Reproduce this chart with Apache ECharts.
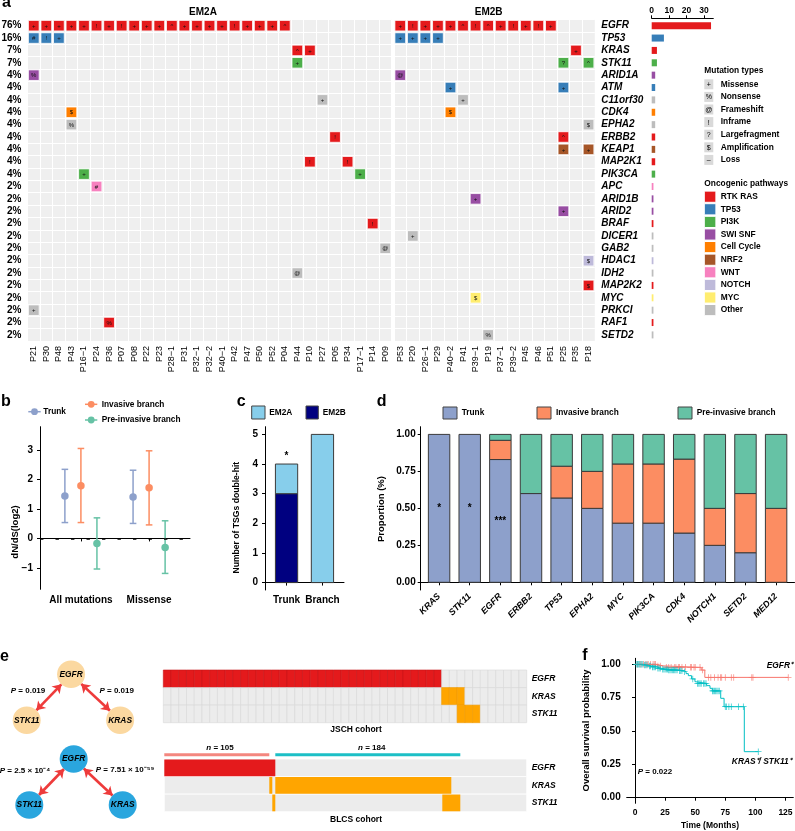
<!DOCTYPE html>
<html><head><meta charset="utf-8">
<script src="https://cdn.jsdelivr.net/npm/echarts@6/dist/echarts.min.js"></script>
<style>html,body{margin:0;padding:0;background:#fff}#c{width:795px;height:831px}</style>
</head><body><div id="c"></div>
<script>
const FF = "'Liberation Sans', Arial, Helvetica, sans-serif";

// ================= Panel a : oncoprint =================
const samplesEM2A = ['P21','P30','P48','P43','P16−1','P24','P36','P07','P08','P22','P23','P28−1','P31','P32−1','P32−2','P40−1','P42','P47','P50','P52','P04','P44','P10','P27','P05','P34','P17−1','P14','P09'];
const samplesEM2B = ['P53','P20','P26−1','P29','P40−2','P41','P39−1','P19','P37−1','P39−2','P45','P46','P51','P25','P35','P18'];
const genes = ['EGFR','TP53','KRAS','STK11','ARID1A','ATM','C11orf30','CDK4','EPHA2','ERBB2','KEAP1','MAP2K1','PIK3CA','APC','ARID1B','ARID2','BRAF','DICER1','GAB2','HDAC1','IDH2','MAP2K2','MYC','PRKCI','RAF1','SETD2'];
const genePathway = ['RTK RAS','TP53','RTK RAS','PI3K','SWI SNF','TP53','Other','Cell Cycle','Other','RTK RAS','NRF2','RTK RAS','PI3K','WNT','SWI SNF','SWI SNF','RTK RAS','Other','Other','NOTCH','Other','RTK RAS','MYC','Other','RTK RAS','Other'];
const mutationsEM2A = [
  ['P21','EGFR','+'],['P30','EGFR','+'],['P48','EGFR','+'],['P43','EGFR','+'],['P16−1','EGFR','+'],['P24','EGFR','!'],['P36','EGFR','+'],['P07','EGFR','!'],['P08','EGFR','+'],['P22','EGFR','+'],['P23','EGFR','+'],['P28−1','EGFR','^'],['P31','EGFR','+'],['P32−1','EGFR','+'],['P32−2','EGFR','+'],['P40−1','EGFR','+'],['P42','EGFR','!'],['P47','EGFR','+'],['P50','EGFR','+'],['P52','EGFR','+'],['P04','EGFR','^'],
  ['P21','TP53','#'],['P30','TP53','!'],['P48','TP53','+'],
  ['P44','KRAS','^'],['P10','KRAS','+'],
  ['P44','STK11','+'],
  ['P21','ARID1A','%'],
  ['P27','C11orf30','+'],
  ['P43','CDK4','$'],
  ['P43','EPHA2','%'],
  ['P05','ERBB2','!'],
  ['P10','MAP2K1','!'],['P34','MAP2K1','!'],
  ['P16−1','PIK3CA','+'],['P17−1','PIK3CA','+'],
  ['P24','APC','#'],
  ['P14','BRAF','!'],
  ['P09','GAB2','@'],
  ['P44','IDH2','@'],
  ['P21','PRKCI','+'],
  ['P36','RAF1','%']
];
const mutationsEM2B = [
  ['P53','EGFR','+'],['P20','EGFR','!'],['P26−1','EGFR','+'],['P29','EGFR','+'],['P40−2','EGFR','+'],['P41','EGFR','^'],['P39−1','EGFR','!'],['P19','EGFR','^'],['P37−1','EGFR','+'],['P39−2','EGFR','!'],['P45','EGFR','+'],['P46','EGFR','!'],['P51','EGFR','+'],
  ['P53','TP53','+'],['P20','TP53','+'],['P26−1','TP53','+'],['P29','TP53','+'],
  ['P35','KRAS','+'],
  ['P25','STK11','?'],['P18','STK11','^'],
  ['P53','ARID1A','@'],
  ['P40−2','ATM','+'],['P25','ATM','+'],
  ['P41','C11orf30','+'],
  ['P40−2','CDK4','$'],
  ['P18','EPHA2','$'],
  ['P25','ERBB2','^'],
  ['P25','KEAP1','+'],['P18','KEAP1','+'],
  ['P39−1','ARID1B','+'],
  ['P25','ARID2','+'],
  ['P20','DICER1','+'],
  ['P18','HDAC1','$'],
  ['P18','MAP2K2','$'],
  ['P39−1','MYC','$'],
  ['P19','SETD2','%']
];
const mutationTypeSymbols = ['+','%','@','!','?','$','–'];
const mutationTypeLabels = ['Missense','Nonsense','Frameshift','Inframe','Largefragment','Amplification','Loss'];
const pathwayNames = ['RTK RAS','TP53','PI3K','SWI SNF','Cell Cycle','NRF2','WNT','NOTCH','MYC','Other'];
const pathwayColors = ['#E41A1C','#377EB8','#4DAF4A','#984EA3','#FF7F00','#A65628','#F781BF','#BEBADA','#FFED6F','#BDBDBD'];
const countTicks = [0,10,20,30];

// ================= Panel b : dN/dS =================
const dndsCategories = ['All mutations','Missense'];
const dndsTrunk = [1.44, 1.41], dndsTrunkLo = [0.54, 0.51], dndsTrunkHi = [2.35, 2.32];
const dndsInv = [1.79, 1.72], dndsInvLo = [0.54, 0.46], dndsInvHi = [3.06, 2.98];
const dndsPre = [-0.17, -0.31], dndsPreLo = [-1.04, -1.19], dndsPreHi = [0.70, 0.60];
const dndsTicks = [-1,0,1,2,3];

// ================= Panel c : TSG double-hit =================
const tsgCategories = ['Trunk','Branch'];
const tsgEM2B = [3, 0];
const tsgEM2A = [1, 5];
const tsgStars = ['*',''];
const tsgTicks = [0,1,2,3,4,5];

// ================= Panel d : proportions =================
const propGenes = ['KRAS','STK11','EGFR','ERBB2','TP53','EPHA2','MYC','PIK3CA','CDK4','NOTCH1','SETD2','MED12'];
const propTrunk = [1, 1, 0.83, 0.6, 0.57, 0.5, 0.4, 0.4, 0.333, 0.25, 0.2, 0];
const propInvasive = [0, 0, 0.13, 0, 0.215, 0.25, 0.4, 0.4, 0.5, 0.25, 0.4, 0.5];
const propPre = [0, 0, 0.04, 0.4, 0.215, 0.25, 0.2, 0.2, 0.167, 0.5, 0.4, 0.5];
const propStars = ['*','*','***','','','','','','','','',''];
const propStarY = [0.5, 0.5, 0.41];
const propTicks = [0, 0.25, 0.5, 0.75, 1];

// ================= Panel e : networks + oncoprints =================
const netGenes = ['EGFR','STK11','KRAS'];
const netPos = [[0.95,0],[0,1],[2,1]];
const netP1 = ['P = 0.019','P = 0.019'];
const netP2 = ['P = 2.5 × 10⁻⁴','P = 7.51 × 10⁻⁵⁹'];
const oncoGenes = ['EGFR','KRAS','STK11'];
const jschColumns = 47;
const jschAltered = [[0,36],[36,39],[38,41]];
const blcsTotal = 362.4;
const blcsSegments = [[0,0,111],[1,105,108],[1,111,287],[2,108,111],[2,278,296]];
const blcsGroups = [[0,105],[111,296]];
const blcsGroupLabels = ['105','184'];

// ================= Panel f : Kaplan-Meier =================
const kmEgfrTime = [0, 18, 23.5, 55, 58, 127.3];
const kmEgfrSurv = [1, 0.988, 0.977, 0.957, 0.902, 0.902];
const kmEgfrCensor = [2,4,5,7,9,10,11,13,15,16,17,19,21,26,28,30,33,34,36,37,39,42,46,47,49,50,54,56,61,63,66,69,71,72,75,80,82,97,98,127.3];
const kmKrasTime = [0,7,11,13.8,18,22,27.7,36,40,42.4,44.3,47,49.8,51.2,59.5,62.3,64.2,71.2,74,90.8,102.4];
const kmKrasSurv = [1,0.994,0.987,0.98,0.97,0.962,0.957,0.952,0.945,0.93,0.915,0.89,0.87,0.857,0.84,0.82,0.80,0.745,0.682,0.345,0.345];
const kmKrasCensor = [1,2,3,4,5,6,8,9,10,12,13,14.5,15,16,17,19,20,21,23,24,25,26,27,28,29,30,31,32,33,34,35,37,38,39,41,48,52,53,54,55,57,58,59,64.5,65,66,67,68,69,70,75,76,78,80,86,90,102.4];
const kmTicksX = [0,25,50,75,100,125];
const kmTicksY = [0,0.25,0.5,0.75,1];

// ---------------- derived ----------------
const geneColor = g => pathwayColors[pathwayNames.indexOf(genePathway[genes.indexOf(g)])];
const totalSamples = samplesEM2A.length + samplesEM2B.length;
const geneCounts = genes.map(g => mutationsEM2A.concat(mutationsEM2B).filter(m => m[1] === g).length);
const genePct = geneCounts.map(c => Math.round(c / totalSamples * 100) + '%');
const minus = v => (v < 0 ? '−' + Math.abs(v) : String(v));

function mutSeries(muts, samples, idx) {
  return {
    type: 'custom', xAxisIndex: idx, yAxisIndex: idx, silent: true,
    data: muts.map(m => [samples.indexOf(m[0]), genes.indexOf(m[1])]),
    renderItem: (p, api) => {
      const m = muts[p.dataIndex];
      const c = api.coord([api.value(0), api.value(1)]);
      const s = api.size([1, 1]);
      const w = s[0] - 1.8, h = s[1] - 1.8;
      return { type: 'group', children: [
        { type: 'rect', shape: { x: c[0] - w / 2, y: c[1] - h / 2, width: w, height: h },
          style: { fill: geneColor(m[1]), stroke: '#fff', lineWidth: 0.8 } },
        { type: 'text', style: { text: m[2], x: c[0], y: c[1] + 0.5, align: 'center', verticalAlign: 'middle',
          fontSize: 6, fontFamily: FF, fill: '#111' } }
      ]};
    }
  };
}

function stackSeries(xi, xs, bases, vals, color, wUnits) {
  return {
    type: 'custom', xAxisIndex: xi, yAxisIndex: xi, silent: true,
    data: xs.map((x, i) => [x, bases[i], bases[i] + vals[i]]),
    renderItem: (p, api) => {
      const x = api.value(0), y0 = api.value(1), y1 = api.value(2);
      if (!(y1 - y0 > 0)) return { type: 'group', children: [] };
      const a = api.coord([x - wUnits / 2, y1]);
      const b = api.coord([x + wUnits / 2, y0]);
      return { type: 'rect', shape: { x: a[0], y: a[1], width: b[0] - a[0], height: b[1] - a[1] },
        style: { fill: color, stroke: '#3a3a3a', lineWidth: 1 } };
    }
  };
}

function starSeries(xi, xs, ys, labels, size) {
  return {
    type: 'custom', xAxisIndex: xi, yAxisIndex: xi, silent: true,
    data: xs.map((x, i) => [x, ys[i]]),
    renderItem: (p, api) => {
      const c = api.coord([api.value(0), api.value(1)]);
      return { type: 'text', style: { text: labels[p.dataIndex], x: c[0], y: c[1], align: 'center', verticalAlign: 'middle',
        fontSize: size, fontWeight: 'bold', fontFamily: FF, fill: '#000' } };
    }
  };
}

function errSeries(offset, vals, lo, hi, color) {
  return [{
    type: 'custom', xAxisIndex: 3, yAxisIndex: 3, silent: true,
    data: vals.map((v, i) => [i + 1 + offset, lo[i], hi[i]]),
    renderItem: (p, api) => {
      const a = api.coord([api.value(0), api.value(2)]);
      const b = api.coord([api.value(0), api.value(1)]);
      const st = { stroke: color, lineWidth: 1.5 };
      return { type: 'group', children: [
        { type: 'line', shape: { x1: a[0], y1: a[1], x2: b[0], y2: b[1] }, style: st },
        { type: 'line', shape: { x1: a[0] - 3.3, y1: a[1], x2: a[0] + 3.3, y2: a[1] }, style: st },
        { type: 'line', shape: { x1: b[0] - 3.3, y1: b[1], x2: b[0] + 3.3, y2: b[1] }, style: st }
      ]};
    }
  }, {
    type: 'scatter', xAxisIndex: 3, yAxisIndex: 3, silent: true, symbolSize: 7.5,
    itemStyle: { color: color, opacity: 1 },
    data: vals.map((v, i) => [i + 1 + offset, v])
  }];
}

function stepAt(times, surv, t) {
  let s = surv[0];
  for (let i = 0; i < times.length; i++) if (times[i] <= t) s = surv[i];
  return s;
}

const plusPath = 'path://M-0.6,-5H0.6V-0.6H5V0.6H0.6V5H-0.6V0.6H-5V-0.6H-0.6Z';

const axisBlack = { show: true, lineStyle: { color: '#000', width: 1 } };
const noAxis = { show: false };

const gridBase = { containLabel: false, outerBoundsMode: 'none' };

const option = {
  animation: false,
  backgroundColor: '#fff',
  textStyle: { fontFamily: FF, color: '#000' },
  grid: [
    Object.assign({ left: 27.5, top: 19.5, width: 364, height: 321.6, show: true, backgroundColor: '#EFEFEF', borderWidth: 0 }, gridBase),
    Object.assign({ left: 394, top: 19.5, width: 200.8, height: 321.6, show: true, backgroundColor: '#EFEFEF', borderWidth: 0 }, gridBase),
    Object.assign({ left: 651.7, top: 19.5, width: 61.6, height: 321.6 }, gridBase),
    Object.assign({ left: 40, top: 426.7, width: 150, height: 162.6 }, gridBase),
    Object.assign({ left: 265, top: 426.7, width: 79, height: 163.3 }, gridBase),
    Object.assign({ left: 420.7, top: 426.7, width: 373.8, height: 163.3 }, gridBase),
    Object.assign({ left: 163.3, top: 670, width: 363.4, height: 52.7 }, gridBase),
    Object.assign({ left: 164.3, top: 752.85, width: 362.4, height: 58.85 }, gridBase),
    Object.assign({ left: 626.7, top: 658.3, width: 166.6, height: 145 }, gridBase)
  ],
  xAxis: [
    { type: 'category', gridIndex: 0, data: samplesEM2A, axisLine: noAxis, axisTick: noAxis,
      axisLabel: { interval: 0, rotate: 90, fontSize: 9, color: '#000', margin: 5, fontFamily: FF },
      splitLine: { show: true, interval: 0, lineStyle: { color: '#fff', width: 1 } } },
    { type: 'category', gridIndex: 1, data: samplesEM2B, axisLine: noAxis, axisTick: noAxis,
      axisLabel: { interval: 0, rotate: 90, fontSize: 9, color: '#000', margin: 5, fontFamily: FF },
      splitLine: { show: true, interval: 0, lineStyle: { color: '#fff', width: 1 } } },
    { type: 'value', gridIndex: 2, position: 'top', min: 0, max: 35.3, offset: 1.2,
      axisLine: axisBlack, axisTick: { show: true, length: 3, customValues: countTicks, lineStyle: { color: '#000' } },
      axisLabel: { customValues: countTicks, fontSize: 8.5, fontWeight: 'bold', color: '#000', margin: 3 },
      splitLine: noAxis },
    { type: 'value', gridIndex: 3, min: 0.4, max: 2.6,
      axisLine: axisBlack, axisTick: { show: true, length: 3, customValues: [1, 2], lineStyle: { color: '#000' } },
      axisLabel: { customValues: [1, 2], formatter: v => dndsCategories[Math.round(v) - 1], fontSize: 10, fontWeight: 'bold', color: '#000', margin: 6 },
      splitLine: noAxis },
    { type: 'value', gridIndex: 4, min: 0.4, max: 2.6,
      axisLine: axisBlack, axisTick: { show: true, length: 3, customValues: [1, 2], lineStyle: { color: '#000' } },
      axisLabel: { customValues: [1, 2], formatter: v => tsgCategories[Math.round(v) - 1], fontSize: 10, fontWeight: 'bold', color: '#000', margin: 5 },
      splitLine: noAxis },
    { type: 'value', gridIndex: 5, min: 0.4, max: 12.6,
      axisLine: axisBlack, axisTick: { show: true, length: 3, customValues: propGenes.map((g, i) => i + 1), lineStyle: { color: '#000' } },
      axisLabel: { customValues: propGenes.map((g, i) => i + 1), formatter: v => propGenes[Math.round(v) - 1], rotate: 45,
        fontSize: 9, fontWeight: 'bold', fontStyle: 'italic', color: '#000', margin: 5 },
      splitLine: noAxis },
    { type: 'value', gridIndex: 6, min: 0, max: jschColumns, show: false },
    { type: 'value', gridIndex: 7, min: 0, max: blcsTotal, show: false },
    { type: 'value', gridIndex: 8, min: -6.9, max: 131.5,
      axisLine: axisBlack, axisTick: { show: true, length: 3, customValues: kmTicksX, lineStyle: { color: '#000' } },
      axisLabel: { customValues: kmTicksX, fontSize: 8.5, fontWeight: 'bold', color: '#000', margin: 5 },
      splitLine: noAxis }
  ],
  yAxis: [
    { type: 'category', gridIndex: 0, data: genes, inverse: true, axisLine: noAxis, axisTick: noAxis,
      axisLabel: { interval: 0, formatter: (v, i) => genePct[i], fontSize: 10, fontWeight: 'bold', color: '#000', margin: 6 },
      splitLine: { show: true, interval: 0, lineStyle: { color: '#fff', width: 1 } } },
    { type: 'category', gridIndex: 1, data: genes, inverse: true, position: 'right', axisLine: noAxis, axisTick: noAxis,
      axisLabel: { interval: 0, fontSize: 10, fontWeight: 'bold', fontStyle: 'italic', color: '#000', margin: 6.5 },
      splitLine: { show: true, interval: 0, lineStyle: { color: '#fff', width: 1 } } },
    { type: 'category', gridIndex: 2, data: genes, inverse: true, show: false },
    { type: 'value', gridIndex: 3, min: -1.73, max: 3.8,
      axisLine: axisBlack, axisTick: { show: true, length: 3, customValues: dndsTicks, lineStyle: { color: '#000' } },
      axisLabel: { customValues: dndsTicks, formatter: minus, fontSize: 10, fontWeight: 'bold', color: '#000', margin: 7 },
      splitLine: noAxis },
    { type: 'value', gridIndex: 4, min: -0.25, max: 5.26,
      axisLine: axisBlack, axisTick: { show: true, length: 3, customValues: tsgTicks, lineStyle: { color: '#000' } },
      axisLabel: { customValues: tsgTicks, fontSize: 10, fontWeight: 'bold', color: '#000', margin: 7 },
      splitLine: noAxis },
    { type: 'value', gridIndex: 5, min: -0.052, max: 1.052,
      axisLine: axisBlack, axisTick: { show: true, length: 3, customValues: propTicks, lineStyle: { color: '#000' } },
      axisLabel: { customValues: propTicks, formatter: v => v.toFixed(2), fontSize: 10, fontWeight: 'bold', color: '#000', margin: 5 },
      splitLine: noAxis },
    { type: 'value', gridIndex: 6, min: 0, max: 3, inverse: true, position: 'right',
      axisLine: noAxis, axisTick: noAxis, splitLine: noAxis,
      axisLabel: { customValues: [0.5, 1.5, 2.5], formatter: v => oncoGenes[Math.floor(v)], fontSize: 8.5, fontWeight: 'bold', fontStyle: 'italic', color: '#000', margin: 5 } },
    { type: 'value', gridIndex: 7, min: -0.35, max: 3, inverse: true, position: 'right',
      axisLine: noAxis, axisTick: noAxis, splitLine: noAxis,
      axisLabel: { customValues: [0.5, 1.5, 2.5], formatter: v => oncoGenes[Math.floor(v)], fontSize: 8.5, fontWeight: 'bold', fontStyle: 'italic', color: '#000', margin: 5 } },
    { type: 'value', gridIndex: 8, min: -0.042, max: 1.045,
      axisLine: axisBlack, axisTick: { show: true, length: 3, customValues: kmTicksY, lineStyle: { color: '#000' } },
      axisLabel: { customValues: kmTicksY, formatter: v => v.toFixed(2), fontSize: 10, fontWeight: 'bold', color: '#000', margin: 6 },
      splitLine: noAxis }
  ],
  series: [],
  graphic: { elements: [] }
};

const S = option.series;
// panel a
S.push(mutSeries(mutationsEM2A, samplesEM2A, 0));
S.push(mutSeries(mutationsEM2B, samplesEM2B, 1));
S.push({ type: 'bar', xAxisIndex: 2, yAxisIndex: 2, barWidth: 7, silent: true,
  data: geneCounts.map((c, i) => ({ value: c, itemStyle: { color: geneColor(genes[i]) } })) });

// panel b
const off = 0.235;
S.push(...errSeries(-off, dndsTrunk, dndsTrunkLo, dndsTrunkHi, '#8DA0CB'));
S.push(...errSeries(0, dndsInv, dndsInvLo, dndsInvHi, '#FC8D62'));
S.push(...errSeries(off, dndsPre, dndsPreLo, dndsPreHi, '#66C2A5'));
S[S.length - 1].markLine = { silent: true, symbol: 'none', label: { show: false },
  lineStyle: { color: '#000', width: 1.6, type: [3.4, 12.1] }, data: [{ yAxis: 0 }] };

// panel c
const tsgX = tsgCategories.map((c, i) => i + 1);
S.push(stackSeries(4, tsgX, tsgX.map(() => 0), tsgEM2B, '#000080', 0.62));
S.push(stackSeries(4, tsgX, tsgEM2B, tsgEM2A, '#87CEEB', 0.62));
S.push(starSeries(4, tsgX, tsgX.map((x, i) => tsgEM2B[i] + tsgEM2A[i] + 0.25), tsgStars, 10));

// panel d
const propX = propGenes.map((g, i) => i + 1);
S.push(stackSeries(5, propX, propX.map(() => 0), propTrunk, '#8DA0CB', 0.70));
S.push(stackSeries(5, propX, propTrunk, propInvasive, '#FC8D62', 0.70));
S.push(stackSeries(5, propX, propTrunk.map((t, i) => t + propInvasive[i]), propPre, '#66C2A5', 0.70));
S.push(starSeries(5, propX.slice(0, 3), propStarY, propStars.slice(0, 3), 10));

// panel e : JSCH oncoprint
const jschCells = [];
oncoGenes.forEach((g, r) => { for (let c = 0; c < jschColumns; c++) jschCells.push([c, r]); });
S.push({ type: 'custom', xAxisIndex: 6, yAxisIndex: 6, silent: true, data: jschCells,
  renderItem: (p, api) => {
    const col = api.value(0), row = api.value(1);
    const a = api.coord([col, row]), b = api.coord([col + 1, row + 1]);
    const alt = col >= jschAltered[row][0] && col < jschAltered[row][1];
    const fill = alt ? (row === 0 ? '#E41A1C' : '#FFA500') : '#ECECEC';
    const stroke = alt ? (row === 0 ? '#C81418' : '#F09A00') : '#D9D9D9';
    return { type: 'rect', shape: { x: a[0], y: Math.min(a[1], b[1]), width: b[0] - a[0], height: Math.abs(b[1] - a[1]) },
      style: { fill, stroke, lineWidth: 0.6 } };
  } });

// panel e : BLCS oncoprint
S.push({ type: 'custom', xAxisIndex: 7, yAxisIndex: 7, silent: true, data: oncoGenes.map((g, r) => [0, r, blcsTotal]),
  renderItem: (p, api) => {
    const a = api.coord([api.value(0), api.value(1)]), b = api.coord([api.value(2), api.value(1) + 1]);
    return { type: 'rect', shape: { x: a[0], y: a[1], width: b[0] - a[0], height: b[1] - a[1] },
      style: { fill: '#ECECEC', stroke: '#fff', lineWidth: 0.8 } };
  } });
S.push({ type: 'custom', xAxisIndex: 7, yAxisIndex: 7, silent: true, data: blcsSegments.map(s => [s[1], s[0], s[2]]),
  renderItem: (p, api) => {
    const row = api.value(1);
    const a = api.coord([api.value(0), row]), b = api.coord([api.value(2), row + 1]);
    return { type: 'rect', shape: { x: a[0], y: a[1] + 0.4, width: b[0] - a[0], height: b[1] - a[1] - 0.8 },
      style: { fill: row === 0 ? '#E41A1C' : '#FFA500' } };
  } });
S.push({ type: 'custom', xAxisIndex: 7, yAxisIndex: 7, silent: true, data: blcsGroups.map(g => [g[0], g[1]]),
  renderItem: (p, api) => {
    const a = api.coord([api.value(0), -0.33]), b = api.coord([api.value(1), -0.15]);
    return { type: 'rect', shape: { x: a[0], y: a[1], width: b[0] - a[0], height: b[1] - a[1] },
      style: { fill: p.dataIndex === 0 ? '#F4877F' : '#1CBFC6' } };
  } });

// panel e : networks
function netSeries(left, top, color) {
  return { type: 'graph', layout: 'none', left: left, top: top, width: 93.4, height: 46, silent: true, roam: false,
    symbolSize: 28, itemStyle: { color: color },
    label: { show: true, position: 'inside', fontSize: 8.4, fontWeight: 'bold', fontStyle: 'italic', color: '#000' },
    edgeSymbol: ['arrow', 'arrow'], edgeSymbolSize: 8.5,
    lineStyle: { color: '#EE3B3B', width: 2.6, opacity: 1, curveness: 0 },
    data: netGenes.map((g, i) => ({ name: g, x: netPos[i][0], y: netPos[i][1] })),
    links: [{ source: 'EGFR', target: 'STK11' }, { source: 'EGFR', target: 'KRAS' }] };
}
S.push(netSeries(26.7, 674.3, '#FBD8A0'));
S.push(netSeries(29.3, 759, '#2AA6DE'));

// panel f
S.push({ type: 'line', xAxisIndex: 8, yAxisIndex: 8, step: 'end', showSymbol: false, silent: true,
  lineStyle: { color: '#F8766D', width: 1 }, data: kmEgfrTime.map((t, i) => [t, kmEgfrSurv[i]]) });
S.push({ type: 'line', xAxisIndex: 8, yAxisIndex: 8, step: 'end', showSymbol: false, silent: true,
  lineStyle: { color: '#00BFC4', width: 1 }, data: kmKrasTime.map((t, i) => [t, kmKrasSurv[i]]) });
S.push({ type: 'scatter', xAxisIndex: 8, yAxisIndex: 8, symbol: plusPath, symbolSize: 6.5, silent: true,
  itemStyle: { color: '#F8766D' }, data: kmEgfrCensor.map(t => [t, stepAt(kmEgfrTime, kmEgfrSurv, t)]) });
S.push({ type: 'scatter', xAxisIndex: 8, yAxisIndex: 8, symbol: plusPath, symbolSize: 6.5, silent: true,
  itemStyle: { color: '#00BFC4' }, data: kmKrasCensor.map(t => [t, stepAt(kmKrasTime, kmKrasSurv, t)]) });

// ---------------- graphic texts ----------------
const G = option.graphic.elements;
function txt(x, y, text, o) {
  o = o || {};
  G.push({ type: 'text', x: x, y: y, rotation: o.rot || 0, silent: true,
    style: { text: text, fill: '#000', fontFamily: FF, fontSize: o.size || 9, fontWeight: o.weight || 'bold',
      fontStyle: o.style || 'normal', align: o.align || 'left', verticalAlign: 'middle', rich: o.rich } });
}
function box(x, y, w, h, fill, stroke) {
  G.push({ type: 'rect', silent: true, shape: { x: x, y: y, width: w, height: h }, style: { fill: fill, stroke: stroke || null, lineWidth: 1 } });
}
const italicRich = s => ({ i: { fontStyle: 'italic', fontWeight: 'bold', fontSize: s, fontFamily: FF } });

// panel letters
txt(2, 3, 'a', { size: 16 }); txt(1, 402, 'b', { size: 16 }); txt(236.7, 401.4, 'c', { size: 16 });
txt(376.7, 402, 'd', { size: 16 }); txt(0, 656.4, 'e', { size: 16 }); txt(582.3, 655.7, 'f', { size: 16 });

// panel a
txt(203, 12.3, 'EM2A', { size: 10, align: 'center' });
txt(488.7, 12.3, 'EM2B', { size: 10, align: 'center' });
txt(704.3, 71, 'Mutation types', { size: 8.4 });
mutationTypeLabels.forEach((l, i) => {
  const y = 84.3 + 12.6 * i;
  box(704.3, y - 5, 9, 10, '#D9D9D9');
  txt(708.8, y + 0.5, mutationTypeSymbols[i], { size: 7, align: 'center', weight: 'normal' });
  txt(720.7, y, l, { size: 8.4 });
});
txt(704.3, 183.3, 'Oncogenic pathways', { size: 8.4 });
pathwayNames.forEach((n, i) => {
  const y = 196.7 + 12.6 * i;
  box(704.3, y - 5.6, 11.6, 11.2, pathwayColors[i], '#fff');
  txt(720.7, y, n, { size: 8.4 });
});

// panel b legend + title
G.push({ type: 'line', silent: true, shape: { x1: 28.3, y1: 411.7, x2: 40.7, y2: 411.7 }, style: { stroke: '#8DA0CB', lineWidth: 1.5 } });
G.push({ type: 'circle', silent: true, shape: { cx: 34.5, cy: 411.7, r: 3.4 }, style: { fill: '#8DA0CB' } });
txt(43.3, 411.7, 'Trunk', { size: 8.3 });
G.push({ type: 'line', silent: true, shape: { x1: 85, y1: 404.3, x2: 97.3, y2: 404.3 }, style: { stroke: '#FC8D62', lineWidth: 1.5 } });
G.push({ type: 'circle', silent: true, shape: { cx: 91.2, cy: 404.3, r: 3.4 }, style: { fill: '#FC8D62' } });
txt(101.7, 404.3, 'Invasive branch', { size: 8.3 });
G.push({ type: 'line', silent: true, shape: { x1: 85, y1: 420, x2: 97.3, y2: 420 }, style: { stroke: '#66C2A5', lineWidth: 1.5 } });
G.push({ type: 'circle', silent: true, shape: { cx: 91.2, cy: 420, r: 3.4 }, style: { fill: '#66C2A5' } });
txt(101.7, 420, 'Pre-invasive branch', { size: 8.3 });
txt(15, 532, 'dN/dS(log2)', { size: 9.5, align: 'center', rot: Math.PI / 2 });

// panel c legend + title
box(251.7, 406, 13.3, 13, '#87CEEB', '#444'); txt(269.3, 412.5, 'EM2A', { size: 8.3 });
box(306, 406, 12.3, 13, '#000080', '#444'); txt(322.7, 412.5, 'EM2B', { size: 8.3 });
txt(236.7, 517.7, 'Number of TSGs double-hit', { size: 8.6, align: 'center', rot: Math.PI / 2 });

// panel d legend + title
box(443, 407, 14, 12, '#8DA0CB', '#444'); txt(461.7, 413, 'Trunk', { size: 8.3 });
box(537, 407, 14, 12, '#FC8D62', '#444'); txt(556, 413, 'Invasive branch', { size: 8.3 });
box(678, 407, 14, 12, '#66C2A5', '#444'); txt(696.7, 413, 'Pre-invasive branch', { size: 8.3 });
txt(381.7, 509, 'Proportion (%)', { size: 9.5, align: 'center', rot: Math.PI / 2 });

// panel e texts
const pRich = italicRich(8);
txt(28, 690.7, '{i|P}' + netP1[0].slice(1), { size: 8, align: 'center', rich: pRich });
txt(116.7, 690.7, '{i|P}' + netP1[1].slice(1), { size: 8, align: 'center', rich: pRich });
txt(25, 770.5, '{i|P}' + netP2[0].slice(1), { size: 8, align: 'center', rich: pRich });
txt(125, 770, '{i|P}' + netP2[1].slice(1), { size: 8, align: 'center', rich: pRich });
txt(356, 729.3, 'JSCH cohort', { size: 8.5, align: 'center' });
txt(356, 820, 'BLCS cohort', { size: 8.5, align: 'center' });
txt(220, 747.7, '{i|n} = ' + blcsGroupLabels[0], { size: 8, align: 'center', rich: pRich });
txt(371.7, 747.7, '{i|n} = ' + blcsGroupLabels[1], { size: 8, align: 'center', rich: pRich });

// panel f texts
txt(793, 666, 'EGFR⁺', { size: 8.4, align: 'right', style: 'italic' });
txt(791.7, 761.7, 'KRAS⁺/ STK11⁺', { size: 8.4, align: 'right', style: 'italic' });
txt(637.7, 771.7, '{i|P} = 0.022', { size: 8, rich: pRich });
txt(586.7, 730.5, 'Overall survival probability', { size: 9.5, align: 'center', rot: Math.PI / 2 });
txt(710, 825.7, 'Time (Months)', { size: 8.5, align: 'center' });

const chart = echarts.init(document.getElementById('c'), null, { renderer: 'canvas' });
chart.setOption(option);
</script></body></html>
